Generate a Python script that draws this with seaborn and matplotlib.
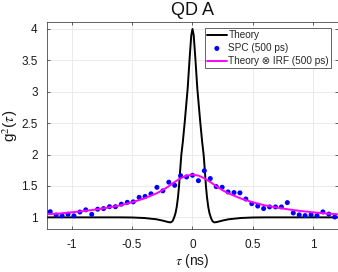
import matplotlib
matplotlib.use('Agg')
import matplotlib.pyplot as plt
import seaborn as sns
import pandas as pd

# SPC histogram (500 ps IRF), bin centres in ns
tau_spc = [-1.176, -1.127, -1.078, -1.029, -0.980, -0.931, -0.882, -0.833, -0.784,
           -0.735, -0.686, -0.637, -0.588, -0.539, -0.490, -0.441, -0.392, -0.343,
           -0.294, -0.245, -0.196, -0.147, -0.098, -0.049, 0.0, 0.049, 0.098, 0.147,
           0.196, 0.245, 0.294, 0.343, 0.392, 0.441, 0.490, 0.539, 0.588, 0.637,
           0.686, 0.735, 0.784, 0.833, 0.882, 0.931, 0.980, 1.029, 1.078, 1.127, 1.176]
g2_spc = [1.09, 1.037, 1.025, 1.05, 1.025, 1.085, 1.12, 1.048, 1.13,
          1.14, 1.17, 1.17, 1.21, 1.239, 1.247, 1.318, 1.333, 1.375,
          1.478, 1.422, 1.56, 1.51, 1.663, 1.643, 1.67, 1.584, 1.742, 1.618,
          1.49, 1.479, 1.405, 1.395, 1.39, 1.292, 1.218, 1.18, 1.14, 1.166,
          1.166, 1.166, 1.235, 1.07, 1.04, 1.028, 1.04, 1.028, 1.087, 1.052, 1.006]

# theory curve
tau_theory = [-1.2, -0.6, -0.5, -0.4, -0.3, -0.25, -0.2, -0.18, -0.165, -0.153,
              -0.14, -0.13, -0.12, -0.111, -0.1, -0.092, -0.08, -0.064, -0.04,
              -0.022, -0.01, 0.0, 0.01, 0.022, 0.04, 0.064, 0.08, 0.092, 0.1,
              0.111, 0.12, 0.13, 0.14, 0.153, 0.165, 0.18, 0.2, 0.25, 0.3, 0.4,
              0.5, 0.6, 1.2]
g2_theory = [1.0, 1.0, 0.998, 0.99, 0.97, 0.95, 0.925, 0.92, 0.94, 0.99,
             1.07, 1.17, 1.32, 1.5, 1.8, 2.0, 2.2, 2.52, 3.05,
             3.58, 3.9, 4.0, 3.9, 3.58, 3.05, 2.52, 2.2, 2.0, 1.8,
             1.5, 1.32, 1.17, 1.07, 0.99, 0.94, 0.92, 0.925, 0.95, 0.97, 0.99,
             0.998, 1.0, 1.0]

# theory convolved with IRF
tau_conv = [-1.2, -1.1, -1.0, -0.9, -0.8, -0.7, -0.6, -0.5, -0.4, -0.35, -0.3,
            -0.25, -0.2, -0.15, -0.1, -0.05, 0.0, 0.05, 0.1, 0.15, 0.2, 0.25,
            0.3, 0.35, 0.4, 0.5, 0.6, 0.7, 0.8, 0.9, 1.0, 1.1, 1.2]
g2_conv = [1.05, 1.062, 1.08, 1.10, 1.125, 1.155, 1.19, 1.24, 1.30, 1.34, 1.38,
           1.43, 1.49, 1.56, 1.62, 1.665, 1.68, 1.665, 1.62, 1.56, 1.49, 1.43,
           1.38, 1.34, 1.30, 1.24, 1.19, 1.155, 1.125, 1.10, 1.08, 1.062, 1.05]

xticks = [-1, -0.5, 0, 0.5, 1]
xticklabels = ['-1', '-0.5', '0', '0.5', '1']
yticks = [1, 1.5, 2, 2.5, 3, 3.5, 4]
yticklabels = ['1', '1.5', '2', '2.5', '3', '3.5', '4']

sns.set_style('ticks')
plt.rcParams['font.family'] = ['Liberation Sans', 'DejaVu Sans']
plt.rcParams['mathtext.fontset'] = 'stix'
plt.rcParams['axes.unicode_minus'] = False

fig = plt.figure(figsize=(3.38, 2.72), dpi=100)
ax = fig.add_axes([0.140, 0.157, 0.859, 0.762])

df_theory = pd.DataFrame({'tau': tau_theory, 'g2': g2_theory})
df_spc = pd.DataFrame({'tau': tau_spc, 'g2': g2_spc})
df_conv = pd.DataFrame({'tau': tau_conv, 'g2': g2_conv})

sns.lineplot(data=df_theory, x='tau', y='g2', ax=ax, color='black', lw=1.4,
             sort=False, label='Theory')
sns.scatterplot(data=df_spc, x='tau', y='g2', ax=ax, color='#0000ff', s=13,
                edgecolor='none', label='SPC (500 ps)', zorder=3)
sns.lineplot(data=df_conv, x='tau', y='g2', ax=ax, color='#ff00ff', lw=1.4,
             sort=False, label='Theory \u2297 IRF (500 ps)', zorder=4)

ax.set_xlim(-1.2, 1.2)
ax.set_ylim(0.81, 4.11)
ax.set_xticks(xticks)
ax.set_xticklabels(xticklabels)
ax.set_yticks(yticks)
ax.set_yticklabels(yticklabels)
ax.tick_params(direction='in', length=2.5, width=0.5, top=True, right=True,
               labelsize=8.5, colors='#262626', labelcolor='#1a1a1a', pad=7)
ax.grid(True, color='#e3e3e3', lw=0.5)
ax.set_axisbelow(True)
for sp in ax.spines.values():
    sp.set_visible(True)
    sp.set_color('#262626')
    sp.set_linewidth(0.5)

ax.set_title('QD A', fontsize=13, pad=5, color='#111111')
ax.set_xlabel(r'$\tau$ (ns)', fontsize=10, labelpad=1, color='#1a1a1a')
ax.set_ylabel(r'g$^2$($\tau$)', fontsize=11, labelpad=1, color='#1a1a1a')

leg = ax.legend(loc='upper right', bbox_to_anchor=(0.977, 0.971), fontsize=7.2,
                frameon=True, fancybox=False, edgecolor='#262626', framealpha=1,
                borderpad=0.2, handlelength=2.0, handletextpad=0.15,
                labelspacing=0.3, borderaxespad=0, scatterpoints=1)
leg.get_frame().set_linewidth(0.5)

fig.savefig('out.png', dpi=100)
